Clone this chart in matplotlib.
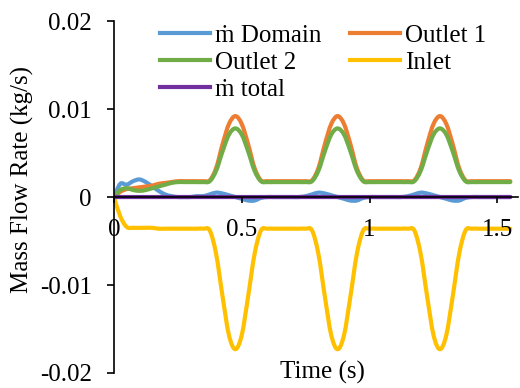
import numpy as np
import matplotlib
matplotlib.use('Agg')
import matplotlib.pyplot as plt
from matplotlib.path import Path
from matplotlib.patches import PathPatch
from matplotlib.lines import Line2D

plt.rcParams['font.family'] = ['Liberation Serif', 'DejaVu Serif']

# time grid (s), step 0.025
t = np.arange(63) * 0.025

# values (kg/s)
outlet1 = [0, 0.0006, 0.0009, 0.0010, 0.0011, 0.0012, 0.0013, 0.0015, 0.0016, 0.0017, 0.0018, 0.0018, 0.0018, 0.0018,
           0.0018, 0.0019, 0.0033, 0.0060, 0.0083, 0.0092, 0.0083, 0.0060, 0.0033, 0.0019, 0.0018,
           0.0018, 0.0018, 0.0018, 0.0018, 0.0018,
           0.0018, 0.0019, 0.0033, 0.0060, 0.0083, 0.0092, 0.0083, 0.0060, 0.0033, 0.0019, 0.0018,
           0.0018, 0.0018, 0.0018, 0.0018, 0.0018,
           0.0018, 0.0019, 0.0033, 0.0060, 0.0083, 0.0092, 0.0083, 0.0060, 0.0033, 0.0019, 0.0018,
           0.0018, 0.0018, 0.0018, 0.0018, 0.0018, 0.0018]
outlet2 = [0, 0.0008, 0.0010, 0.0008, 0.0007, 0.0008, 0.0010, 0.0012, 0.0014, 0.0016, 0.0017, 0.0017, 0.0017, 0.0017,
           0.0017, 0.0018, 0.0030, 0.0052, 0.0071, 0.0078, 0.0071, 0.0052, 0.0030, 0.0018, 0.0017,
           0.0017, 0.0017, 0.0017, 0.0017, 0.0017,
           0.0017, 0.0018, 0.0030, 0.0052, 0.0071, 0.0078, 0.0071, 0.0052, 0.0030, 0.0018, 0.0017,
           0.0017, 0.0017, 0.0017, 0.0017, 0.0017,
           0.0017, 0.0018, 0.0030, 0.0052, 0.0071, 0.0078, 0.0071, 0.0052, 0.0030, 0.0018, 0.0017,
           0.0017, 0.0017, 0.0017, 0.0017, 0.0017, 0.0017]
inlet = [0, -0.0022, -0.0034, -0.0035, -0.0035, -0.0035, -0.0035, -0.0036, -0.0036, -0.0036, -0.0036, -0.0036, -0.0036, -0.0036,
         -0.0036, -0.0038, -0.0065, -0.0113, -0.0157, -0.0173, -0.0157, -0.0113, -0.0065, -0.0038, -0.0036,
         -0.0036, -0.0036, -0.0036, -0.0036, -0.0036,
         -0.0036, -0.0038, -0.0065, -0.0113, -0.0157, -0.0173, -0.0157, -0.0113, -0.0065, -0.0038, -0.0036,
         -0.0036, -0.0036, -0.0036, -0.0036, -0.0036,
         -0.0036, -0.0038, -0.0065, -0.0113, -0.0157, -0.0173, -0.0157, -0.0113, -0.0065, -0.0038, -0.0036,
         -0.0036, -0.0036, -0.0036, -0.0036, -0.0036, -0.0036]
domain = [0, 0.0015, 0.0014, 0.0018, 0.0020, 0.0017, 0.0012, 0.0007, 0.0003, 0.0001, 0, 0, 0, 0.0001,
          0.0001, 0.0003, 0.0005, 0.0004, 0.0002, 0, -0.0002, -0.0004, -0.0004, -0.0001, 0,
          0, 0, 0, 0, 0,
          0.0001, 0.0003, 0.0005, 0.0004, 0.0002, 0, -0.0002, -0.0004, -0.0004, -0.0001, 0,
          0, 0, 0, 0, 0,
          0.0001, 0.0003, 0.0005, 0.0004, 0.0002, 0, -0.0002, -0.0004, -0.0004, -0.0001, 0,
          0, 0, 0, 0, 0, 0]
total = [0] * 63


def smooth_path(x, y):
    # Excel style smoothed line: Catmull-Rom segments drawn as cubic beziers
    p = np.column_stack([x, y]).astype(float)
    n = len(p)
    verts = [p[0]]
    codes = [Path.MOVETO]
    for i in range(n - 1):
        p0 = p[i - 1] if i > 0 else p[i]
        p3 = p[i + 2] if i + 2 < n else p[i + 1]
        c1 = p[i] + (p[i + 1] - p0) / 6
        c2 = p[i + 1] - (p3 - p[i]) / 6
        verts += [c1, c2, p[i + 1]]
        codes += [Path.CURVE4] * 3
    return Path(verts, codes)


fig = plt.figure(figsize=(5.2, 3.88), dpi=100)
ax = fig.add_axes([0.219, 0.0387, 0.777, 0.907])

lw = 3
series = [
    (domain, '#5B9BD5', 'ṁ Domain'),
    (outlet1, '#ED7D31', 'Outlet 1'),
    (outlet2, '#70AD47', 'Outlet 2'),
    (inlet, '#FFC000', 'Inlet'),
    (total, '#7030A0', 'ṁ total'),
]
handles = {}
for ys, col, lab in series:
    ax.add_patch(PathPatch(smooth_path(t, ys), fill=False, edgecolor=col, lw=lw,
                           capstyle='round', joinstyle='round'))
    handles[lab] = Line2D([], [], color=col, lw=lw, label=lab)

ax.set_xlim(0, 1.58)
ax.set_ylim(-0.02, 0.02)
ax.set_xticks([0, 0.5, 1, 1.5])
ax.set_xticklabels(['0', '0.5', '1', '1.5'])
ax.set_yticks([-0.02, -0.01, 0, 0.01, 0.02])
ax.set_yticklabels(['-0.02', '-0.01', '0', '0.01', '0.02'])

ax.spines['top'].set_visible(False)
ax.spines['right'].set_visible(False)
ax.spines['bottom'].set_position(('data', 0))
for s in ['left', 'bottom']:
    ax.spines[s].set_linewidth(1.2)
ax.tick_params(axis='y', direction='out', length=5, width=1.2, pad=11, labelsize=18)
ax.tick_params(axis='x', direction='out', length=4, width=1.2, pad=12, labelsize=18)

ax.set_xlabel('Time (s)', fontsize=18)
ax.xaxis.set_label_coords(0.515, 0.035)
ax.set_ylabel('Mass Flow Rate (kg/s)', fontsize=18)
ax.yaxis.set_label_coords(-0.198, 0.551)

order = ['ṁ Domain', 'Outlet 2', 'ṁ total', 'Outlet 1', 'Inlet']
ax.legend(handles=[handles[k] for k in order], ncol=2, frameon=False, fontsize=18,
          loc='upper left', bbox_to_anchor=(0.09, 1.02), handlelength=2.0, handletextpad=0.2,
          columnspacing=1.12, labelspacing=0.18, borderaxespad=0)

fig.savefig('out.png', dpi=100)
